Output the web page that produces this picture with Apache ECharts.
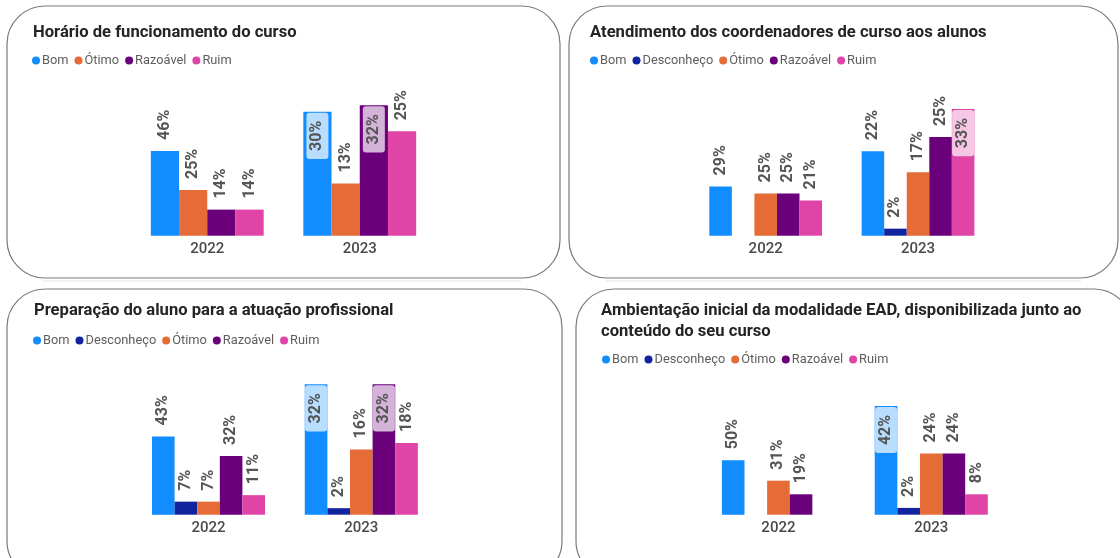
<!DOCTYPE html>
<html>
<head>
<meta charset="utf-8">
<script src="https://cdn.jsdelivr.net/npm/echarts@6.0.0/dist/echarts.min.js"></script>
<style>
  html, body { margin: 0; padding: 0; background: #ffffff; }
  #chart { width: 1120px; height: 558px; }
</style>
</head>
<body>
<div id="chart"></div>
<script>
// ---------- DATA ----------
const categories = ['2022', '2023'];

// Panel 1
const horarioTitle = 'Horário de funcionamento do curso';
const horarioSeries = ['Bom', 'Ótimo', 'Razoável', 'Ruim'];
const horarioCount2022 = [13, 7, 4, 4];
const horarioCount2023 = [19, 8, 20, 16];
const horarioPct2022 = [46, 25, 14, 14];
const horarioPct2023 = [30, 13, 32, 25];

// Panel 2
const atendTitle = 'Atendimento dos coordenadores de curso aos alunos';
const atendSeries = ['Bom', 'Desconheço', 'Ótimo', 'Razoável', 'Ruim'];
const atendCount2022 = [7, null, 6, 6, 5];
const atendCount2023 = [12, 1, 9, 14, 18];
const atendPct2022 = [29, null, 25, 25, 21];
const atendPct2023 = [22, 2, 17, 25, 33];

// Panel 3
const prepTitle = 'Preparação do aluno para a atuação profissional';
const prepSeries = ['Bom', 'Desconheço', 'Ótimo', 'Razoável', 'Ruim'];
const prepCount2022 = [12, 2, 2, 9, 3];
const prepCount2023 = [20, 1, 10, 20, 11];
const prepPct2022 = [43, 7, 7, 32, 11];
const prepPct2023 = [32, 2, 16, 32, 18];

// Panel 4
const ambTitle = 'Ambientação inicial da modalidade EAD, disponibilizada junto ao\nconteúdo do seu curso';
const ambSeries = ['Bom', 'Desconheço', 'Ótimo', 'Razoável', 'Ruim'];
const ambCount2022 = [8, null, 5, 3, null];
const ambCount2023 = [16, 1, 9, 9, 3];
const ambPct2022 = [50, null, 31, 19, null];
const ambPct2023 = [42, 2, 24, 24, 8];

// ---------- STYLE / LAYOUT ----------
const palette = {
  'Bom': '#118DFF',
  'Desconheço': '#12239E',
  'Ótimo': '#E66C37',
  'Razoável': '#6B007B',
  'Ruim': '#E044A7'
};
const FONT = 'Roboto';

const panels = [
  { title: horarioTitle, series: horarioSeries,
    counts: [horarioCount2022, horarioCount2023], pcts: [horarioPct2022, horarioPct2023],
    card: [7, 6, 553, 272], titleAt: [33, 22], legendAt: [32, 54],
    grid: [131, 85.7, 305, 150], yMax: 23 },
  { title: atendTitle, series: atendSeries,
    counts: [atendCount2022, atendCount2023], pcts: [atendPct2022, atendPct2023],
    card: [569, 6, 549, 272], titleAt: [590, 22], legendAt: [590, 54],
    grid: [689.5, 85.7, 304.7, 150], yMax: 21.3 },
  { title: prepTitle, series: prepSeries,
    counts: [prepCount2022, prepCount2023], pcts: [prepPct2022, prepPct2023],
    card: [7, 289, 555, 290], titleAt: [34, 300], legendAt: [33, 334],
    grid: [132.1, 364.7, 305.6, 150], yMax: 23 },
  { title: ambTitle, series: ambSeries,
    counts: [ambCount2022, ambCount2023], pcts: [ambPct2022, ambPct2023],
    card: [576, 289, 556, 290], titleAt: [601, 300.5], legendAt: [602, 353],
    grid: [702, 364.7, 305.7, 150], yMax: 22.06 }
];

const labelBase = {
  show: true,
  rotate: 90,
  verticalAlign: 'middle',
  fontFamily: FONT,
  fontSize: 16,
  fontWeight: 'bold',
  color: '#555555',
  formatter: p => p.data.pct + '%'
};
const topLabel = Object.assign({}, labelBase, {
  position: 'top', distance: 11, align: 'left'
});
const insideLabel = Object.assign({}, labelBase, {
  position: 'insideTop', distance: 1, align: 'right',
  backgroundColor: 'rgba(255,255,255,0.7)',
  padding: [3, 8, 3, 8], borderRadius: 3, lineHeight: 16
});

const option = {
  animation: false,
  title: [], legend: [], grid: [], xAxis: [], yAxis: [], series: [],
  graphic: [
    { type: 'line', z: -20, shape: { x1: 43, y1: 281, x2: 521, y2: 281 },
      style: { stroke: '#ececec', lineWidth: 1.5 } },
    { type: 'line', z: -20, shape: { x1: 606, y1: 281, x2: 1081, y2: 281 },
      style: { stroke: '#ececec', lineWidth: 1.5 } }
  ]
};

panels.forEach((p, i) => {
  option.graphic.push({
    type: 'rect', z: -10,
    shape: { x: p.card[0], y: p.card[1], width: p.card[2], height: p.card[3], r: 38 },
    style: { fill: '#ffffff', stroke: '#7a7a7a', lineWidth: 1.2 }
  });
  option.title.push({
    text: p.title, left: p.titleAt[0], top: p.titleAt[1], padding: 0,
    textStyle: { fontFamily: FONT, fontSize: 16.6, fontWeight: 'bold', color: '#252423', lineHeight: 21 }
  });
  option.legend.push({
    data: p.series, left: p.legendAt[0], top: p.legendAt[1], padding: 0,
    icon: 'circle', itemWidth: 8, itemHeight: 8, itemGap: 6, selectedMode: false,
    textStyle: { fontFamily: FONT, fontSize: 12.8, color: '#605E5C', padding: [0, 0, 0, -3] }
  });
  option.grid.push({ left: p.grid[0], top: p.grid[1], width: p.grid[2], height: p.grid[3] });
  option.xAxis.push({
    type: 'category', gridIndex: i, data: categories,
    axisLine: { show: false }, axisTick: { show: false },
    axisLabel: { fontFamily: FONT, fontSize: 15, fontWeight: 500, color: '#4a4a4a', margin: 6 }
  });
  option.yAxis.push({
    type: 'value', gridIndex: i, min: 0, max: p.yMax, show: false, splitLine: { show: false }
  });
  const H = p.grid[3];
  p.series.forEach((name, s) => {
    const data = categories.map((c, k) => {
      const v = p.counts[k][s];
      if (v === null || v === undefined) return '-';
      const gap = H - v / p.yMax * H;
      return { value: v, pct: p.pcts[k][s], label: gap < 44 ? insideLabel : topLabel };
    });
    option.series.push({
      type: 'bar', name: name, xAxisIndex: i, yAxisIndex: i, data: data,
      barGap: '0%', barCategoryGap: '26%',
      itemStyle: { color: palette[name] },
      label: topLabel,
      emphasis: { disabled: true }
    });
  });
});

const chart = echarts.init(document.getElementById('chart'));
chart.setOption(option);
</script>
</body>
</html>
